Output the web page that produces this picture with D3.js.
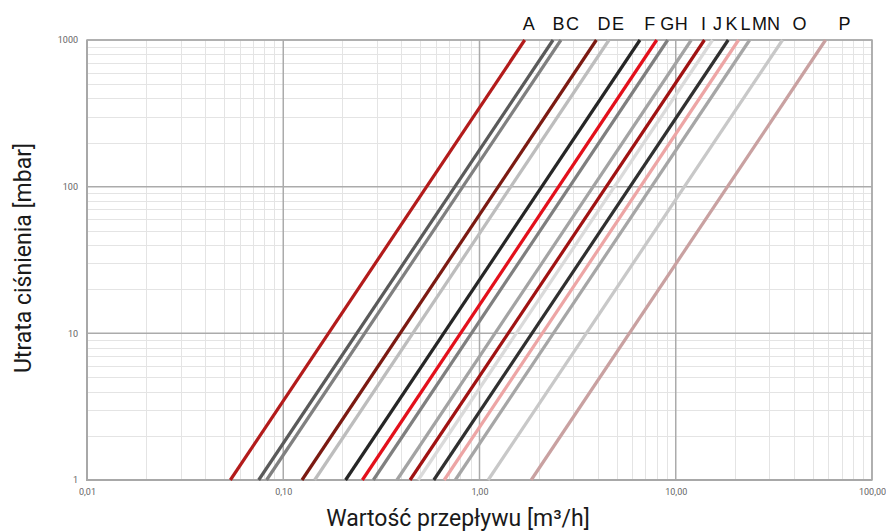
<!DOCTYPE html>
<html><head><meta charset="utf-8">
<script src="https://cdn.jsdelivr.net/npm/d3@7"></script>
<style>body{margin:0;background:#fff}</style>
</head><body><svg id="c" width="886" height="532"></svg>
<script>
// Series: flow [m3/h] at 1000 mbar (Kv) for each curve
const seriesNames = ["A","B","C","D","E","F","G","H","I","J","K","L","M","N","O","P"];
const kvValues    = [1.70, 2.37, 2.60, 3.94, 4.57, 6.57, 8.0, 9.1, 12.0, 14.0, 15.4, 18.5, 20.9, 23.8, 35.0, 58.0];
const seriesColors = ["#b31b1b","#5a5a5a","#808080","#7b1a12","#bdbdbd","#262626","#e3101b","#7f7f7f",
                      "#a3a3a3","#a01212","#dadada","#303030","#eda5a5","#a6a6a6","#c8c8c8","#c9a1a1"];
const pressureRange = [1, 1000];           // mbar
const xTickValues = [0.01, 0.1, 1, 10, 100];
const xTickLabels = ["0,01","0,10","1,00","10,00","100,00"];
const yTickValues = [1, 10, 100, 1000];
const yTickLabels = ["1","10","100","1000"];
const xTitle = "Wartość przepływu [m³/h]";
const yTitle = "Utrata ciśnienia [mbar]";

const L = 87, R = 872, T = 40, B = 480;
const svg = d3.select("#c");
const x = d3.scaleLog().domain([0.01, 100]).range([L, R]);
const y = d3.scaleLog().domain([1, 1000]).range([B, T]);

// minor grid
const xMinor = x.ticks().filter(v => !xTickValues.some(t => Math.abs(t - v) / t < 1e-9));
const yMinor = y.ticks().filter(v => !yTickValues.some(t => Math.abs(t - v) / t < 1e-9));
const g = svg.append("g");
g.selectAll(".xm").data(xMinor).join("line")
  .attr("x1", d => Math.round(x(d)) + 0.5).attr("x2", d => Math.round(x(d)) + 0.5)
  .attr("y1", T).attr("y2", B).attr("stroke", "#e4e4e4").attr("stroke-width", 1);
g.selectAll(".ym").data(yMinor).join("line")
  .attr("y1", d => Math.round(y(d)) + 0.5).attr("y2", d => Math.round(y(d)) + 0.5)
  .attr("x1", L).attr("x2", R).attr("stroke", "#e4e4e4").attr("stroke-width", 1);
// major grid
g.selectAll(".xM").data(xTickValues).join("line")
  .attr("x1", d => x(d)).attr("x2", d => x(d))
  .attr("y1", T).attr("y2", B).attr("stroke", "#ababab").attr("stroke-width", 1.5);
g.selectAll(".yM").data(yTickValues).join("line")
  .attr("y1", d => y(d)).attr("y2", d => y(d))
  .attr("x1", L).attr("x2", R).attr("stroke", "#ababab").attr("stroke-width", 1.5);
svg.append("rect").attr("x", L).attr("y", T).attr("width", R - L).attr("height", B - T)
  .attr("fill", "none").attr("stroke", "#aaaaaa").attr("stroke-width", 1.5);
svg.append("path").attr("d", `M${L},${T}V${B}H${R}`).attr("fill", "none")
  .attr("stroke", "#a8a8a8").attr("stroke-width", 2);

// axes (labels only)
const xAxis = d3.axisBottom(x).tickValues(xTickValues)
  .tickFormat((d, i) => xTickLabels[i]).tickSize(0).tickPadding(9);
const gx = svg.append("g").attr("transform", `translate(0,${B})`).call(xAxis);
const yAxis = d3.axisLeft(y).tickValues(yTickValues)
  .tickFormat((d, i) => yTickLabels[i]).tickSize(0).tickPadding(9);
const gy = svg.append("g").attr("transform", `translate(${L},0)`).call(yAxis);
[gx, gy].forEach(a => {
  a.select(".domain").remove();
  a.selectAll("text").attr("font-family", "Roboto, sans-serif").attr("font-size", 9).attr("fill", "#666");
});

// curves: dp = 1000 * (Q/Kv)^2  ->  Q = Kv * sqrt(dp/1000)
const line = d3.line().x(d => x(d[0])).y(d => y(d[1]));
const series = seriesNames.map((n, i) => ({
  name: n, color: seriesColors[i],
  pts: pressureRange.map(p => [kvValues[i] * Math.sqrt(p / 1000), p])
}));
svg.append("g").selectAll("path").data(series).join("path")
  .attr("d", d => line(d.pts)).attr("fill", "none")
  .attr("stroke", d => d.color).attr("stroke-width", 3.2);

// top labels
let prev = -1e9;
const labelPos = series.map(s => {
  const xt = x(s.pts[1][0]);
  let lx = xt + 4 + (xt - 525) * 0.05;
  if (lx < prev + 14) lx = prev + 14;
  prev = lx;
  return { name: s.name, x: lx };
});
svg.append("g").selectAll("text").data(labelPos).join("text")
  .attr("x", d => d.x).attr("y", 30).attr("text-anchor", "middle")
  .attr("font-family", "'Liberation Sans', Arial, sans-serif").attr("font-size", 18)
  .attr("fill", "#111").text(d => d.name);

// titles
svg.append("text").attr("x", 458).attr("y", 526).attr("text-anchor", "middle")
  .attr("font-family", "Roboto, sans-serif").attr("font-size", 23).attr("fill", "#1a1a1a").text(xTitle);
svg.append("text").attr("transform", "translate(31,258) rotate(-90)").attr("text-anchor", "middle")
  .attr("font-family", "Roboto, sans-serif").attr("font-size", 23).attr("fill", "#1a1a1a").text(yTitle);
</script></body></html>
